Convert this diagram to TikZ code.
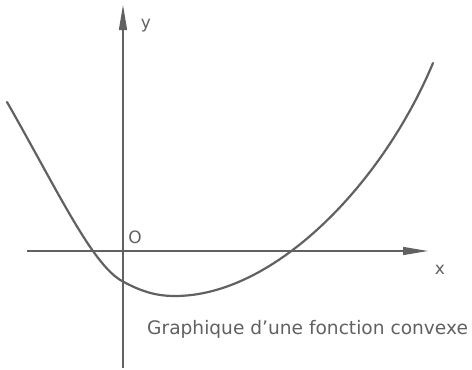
\documentclass[tikz,border=0pt]{standalone}
\usepackage{fontspec}
\setmainfont{DejaVu Sans}
\usepackage{xcolor}
\usepackage{tikz}
\usetikzlibrary{arrows.meta,positioning}
\definecolor{encre}{gray}{0.38}
\tikzset{
  axe/.style={-{Triangle[length=25pt, width=8pt]}, line width=1.3pt, encre},
  courbe/.style={line width=2.2pt, encre, line cap=round},
  etiq/.style={inner sep=0pt, text=encre, font=\fontsize{17}{20}\selectfont},
  legende/.style={inner sep=0pt, text=encre, font=\fontsize{18.6}{22}\selectfont},
}

\begin{document}
\begin{tikzpicture}[x=1pt, y=-1pt]
\useasboundingbox (0,0) rectangle (472,370);
% --- axes ---
\coordinate (xdeb) at (27,251);
\coordinate (xfin) at (428,251);
\coordinate (ydeb) at (123,368);
\coordinate (yfin) at (123,5);
\draw[axe] (xdeb) -- (xfin);
\draw[axe] (ydeb) -- (yfin);
\node[etiq] (lx) at (440,270) {x};
\node[etiq] (ly) at (146,26) {y};
\node[etiq] (O) at (135,237) {O};
% --- courbe convexe ---
\coordinate (cdeb) at (7,102);
\coordinate (coy) at (122,281);
\coordinate (cmin) at (175,296);
\coordinate (cfin) at (433,63);
\draw[courbe] (cdeb) .. controls (57,189.5) and (92,264.5) .. (coy)
  .. controls (142,292) and (157,296) .. (cmin)
  .. controls (275,296) and (383,183) .. (cfin);
% --- titre ---
\node[legende, anchor=base west] (titre) at (147,334) {Graphique d’une fonction convexe};
\end{tikzpicture}
\end{document}
